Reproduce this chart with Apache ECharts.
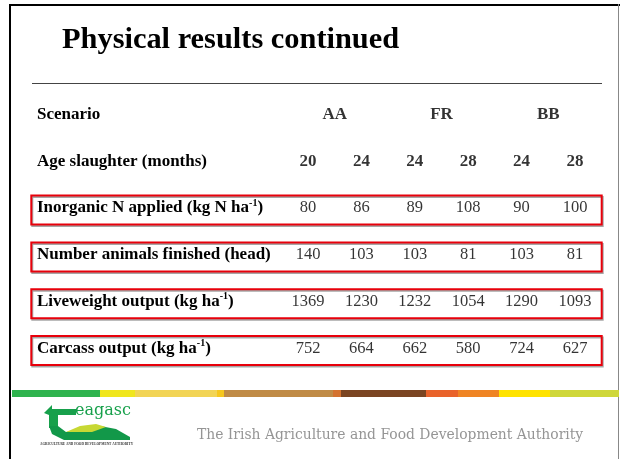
<!DOCTYPE html>
<html>
<head>
<meta charset="utf-8">
<script src="https://cdn.jsdelivr.net/npm/echarts@6/dist/echarts.min.js"></script>
<style>
  html, body { margin: 0; padding: 0; background: #fff; }
  #chart { width: 620px; height: 459px; }
</style>
</head>
<body>
<div id="chart"></div>
<script>
// table content
const scenarios = ['AA', 'FR', 'BB']
const columns = ['AA20', 'AA24', 'FR24', 'FR28', 'BB24', 'BB28']
const ageSlaughter = [20, 24, 24, 28, 24, 28]
const rowNames = [
  'Scenario',
  'Age slaughter (months)',
  'Inorganic N applied (kg N ha-1)',
  'Number animals finished (head)',
  'Liveweight output (kg ha-1)',
  'Carcass output (kg ha-1)',
]
const inorganicN = [80, 86, 89, 108, 90, 100]
const animalsFinished = [140, 103, 103, 81, 103, 81]
const liveweightOutput = [1369, 1230, 1232, 1054, 1290, 1093]
const carcassOutput = [752, 664, 662, 580, 724, 627]

const SERIF = '"Liberation Serif", "Times New Roman", serif'

const chart = echarts.init(document.getElementById('chart'))

const cells = []
;[inorganicN, animalsFinished, liveweightOutput, carcassOutput].forEach((arr, r) => {
  arr.forEach((v, c) => cells.push([c, rowNames[r + 2], v]))
})

function rowLabel(name) {
  // "ha-1" -> superscript
  const parts = name.split('ha-1')
  if (parts.length === 1) return '{b|' + name + '}'
  return '{b|' + parts[0] + 'ha}{sup|-1}{b|' + parts[1] + '}'
}

const stripColors = [
  ['#2fb34e', 12, 100], ['#f0e61c', 100, 135], ['#f2d455', 135, 217], ['#f6c71e', 217, 224],
  ['#c08b46', 224, 333], ['#d4722f', 333, 341], ['#7b4522', 341, 426], ['#e9632b', 426, 458],
  ['#ef8424', 458, 499], ['#ffe300', 499, 550], ['#cfd73a', 550, 619],
]

chart.setOption({
  animation: false,
  title: {
    text: 'Physical results continued',
    left: 62, top: 25, padding: 0,
    textStyle: { fontFamily: SERIF, fontWeight: 'bold', fontSize: 30.4, color: '#000' },
  },
  grid: { left: 281.3, right: 18.3, top: 91, bottom: 87 },
  xAxis: [
    { type: 'category', data: columns, show: false },
    { type: 'category', data: scenarios, show: false, position: 'top' },
  ],
  yAxis: {
    type: 'category', data: rowNames, inverse: true,
    axisLine: { show: false }, axisTick: { show: false }, splitLine: { show: false },
    axisLabel: {
      align: 'left', margin: 244.3,
      formatter: rowLabel,
      rich: {
        b: { fontFamily: SERIF, fontWeight: 'bold', fontSize: 17, color: '#000', lineHeight: 20 },
        sup: { fontFamily: SERIF, fontWeight: 'bold', fontSize: 10, color: '#000', verticalAlign: 'top', lineHeight: 10 },
      },
    },
  },
  series: [
    {
      type: 'custom',
      data: rowNames.slice(2).map(r => [0, r]),
      renderItem: (params, api) => {
        const p = api.coord([0, api.value(1)])
        const cs = params.coordSys
        return {
          type: 'rect',
          shape: { x: cs.x - 250, y: p[1] - 12.5, width: cs.width + 250, height: 29 },
          style: { fill: 'none', stroke: '#e8000b', lineWidth: 2, shadowColor: 'rgba(0,0,0,0.35)', shadowOffsetY: 1.5, shadowOffsetX: 1 },
        }
      },
      silent: true,
    },
    {
      type: 'scatter', xAxisIndex: 1, symbolSize: 1, itemStyle: { color: 'transparent' },
      data: scenarios.map((s, i) => [i, 'Scenario', s]),
      label: { show: true, position: 'inside', formatter: p => p.data[2], fontFamily: SERIF, fontWeight: 'bold', fontSize: 17, color: '#000' },
    },
    {
      type: 'scatter', symbolSize: 1, itemStyle: { color: 'transparent' },
      data: ageSlaughter.map((v, i) => [i, 'Age slaughter (months)', v]),
      label: { show: true, position: 'inside', formatter: p => p.data[2], fontFamily: SERIF, fontWeight: 'bold', fontSize: 17, color: '#000' },
    },
    {
      type: 'scatter', symbolSize: 1, itemStyle: { color: 'transparent' },
      data: cells,
      label: { show: true, position: 'inside', formatter: p => p.data[2], fontFamily: SERIF, fontSize: 16.5, color: '#000' },
    },
  ],
  graphic: [
    // slide frame
    { type: 'rect', shape: { x: 9, y: 4, width: 611, height: 2 }, style: { fill: '#000' } },
    { type: 'rect', shape: { x: 9, y: 4, width: 2, height: 455 }, style: { fill: '#000' } },
    { type: 'rect', shape: { x: 618, y: 4, width: 1, height: 455 }, style: { fill: '#888' } },
    // rule under title
    { type: 'line', shape: { x1: 32, y1: 83.5, x2: 602, y2: 83.5 }, style: { stroke: '#444', lineWidth: 1 } },
    // colour strip
    ...stripColors.map(([c, a, b]) => ({ type: 'rect', shape: { x: a, y: 390, width: b - a, height: 7 }, style: { fill: c } })),
    // logo
    { type: 'polygon', shape: { points: [[44, 413], [52, 405], [52, 409], [76, 409], [76, 415], [58, 415], [58, 428], [49, 428], [49, 415]] }, style: { fill: '#17a04b' } },
    { type: 'polygon', shape: { points: [[49, 426], [58, 426], [66, 432], [84, 430], [100, 426], [116, 429], [130, 437], [130, 440], [64, 440], [52, 434]] }, style: { fill: '#129849' } },
    { type: 'polygon', shape: { points: [[66, 432], [80, 426], [96, 424], [106, 427], [92, 432]] }, style: { fill: '#c7d833' } },
    { type: 'text', style: { x: 75, y: 403, text: 'eagasc', fontFamily: '"DejaVu Serif", serif', fontSize: 16, fill: '#17a04b' } },
    { type: 'text', style: { x: 40, y: 443, text: 'AGRICULTURE AND FOOD DEVELOPMENT AUTHORITY', fontFamily: SERIF, fontSize: 3.4, fontWeight: 'bold', fill: '#333' } },
    // footer strapline
    { type: 'text', style: { x: 197, y: 428, text: 'The Irish Agriculture and Food Development Authority', fontFamily: '"DejaVu Serif", serif', fontSize: 13.9, fill: '#959595' } },
  ],
})
</script>
</body>
</html>
